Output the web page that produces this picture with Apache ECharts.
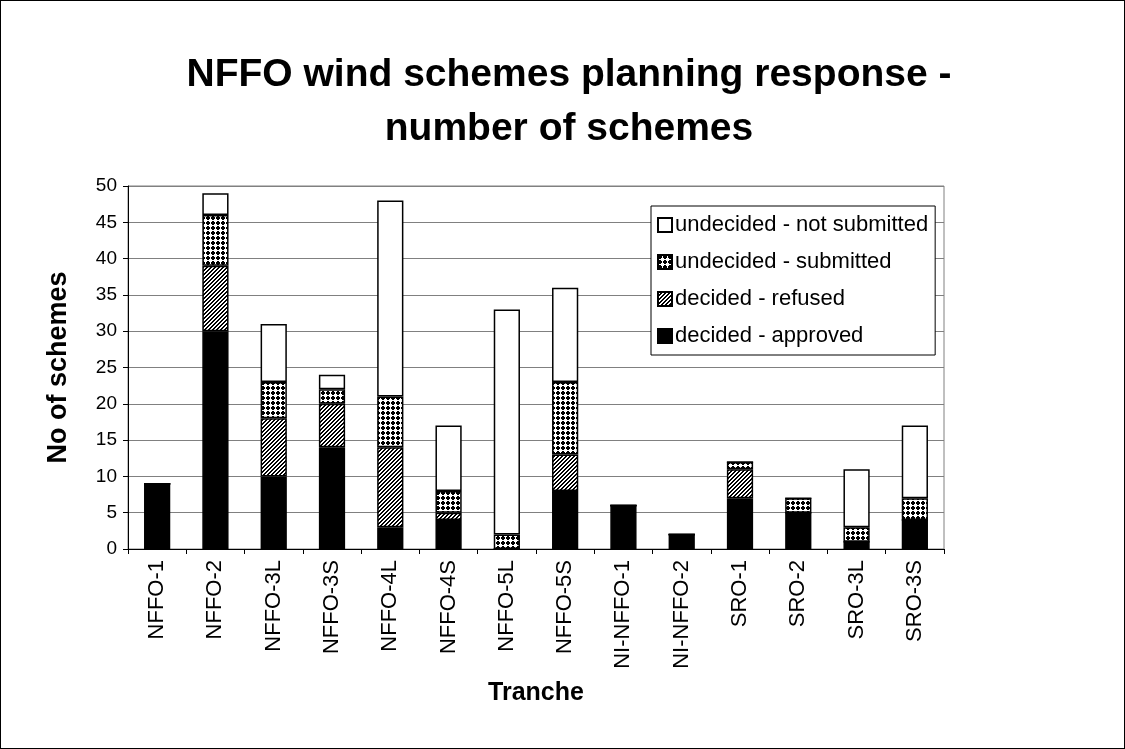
<!DOCTYPE html>
<html>
<head>
<meta charset="utf-8">
<script src="https://cdn.jsdelivr.net/npm/echarts@6/dist/echarts.min.js"></script>
<style>
  html, body { margin: 0; padding: 0; background: #fff; }
  #chart { width: 1123px; height: 747px; border: 1px solid #000; }
</style>
</head>
<body>
<div id="chart"></div>
<script>
const categories = ['NFFO-1', 'NFFO-2', 'NFFO-3L', 'NFFO-3S', 'NFFO-4L', 'NFFO-4S', 'NFFO-5L',
  'NFFO-5S', 'NI-NFFO-1', 'NI-NFFO-2', 'SRO-1', 'SRO-2', 'SRO-3L', 'SRO-3S'];
const approved     = [9, 30, 10, 14, 3, 4, 0, 8, 6, 2, 7, 5, 1, 4];
const refused      = [0, 9, 8, 6, 11, 1, 0, 5, 0, 0, 4, 0, 0, 0];
const submitted    = [0, 7, 5, 2, 7, 3, 2, 10, 0, 0, 1, 2, 2, 3];
const notSubmitted = [0, 3, 8, 2, 27, 9, 31, 13, 0, 0, 0, 0, 8, 10];
const yTicks = [0, 5, 10, 15, 20, 25, 30, 35, 40, 45, 50];

// fill patterns drawn on tiny canvases
const makeTile = (size, draw) => {
  const c = document.createElement('canvas');
  c.width = size; c.height = size;
  const ctx = c.getContext('2d');
  ctx.fillStyle = '#fff';
  ctx.fillRect(0, 0, size, size);
  ctx.fillStyle = '#000';
  draw(ctx);
  return { image: c, repeat: 'repeat' };
};

// diagonal hatch ////
const hatch = makeTile(4, ctx => {
  for (let i = 0; i < 4; i++) ctx.fillRect((3 - i + 4) % 4, i, 1, 1);
  for (let i = 0; i < 4; i++) ctx.fillRect((4 - i + 4) % 4, i, 1, 1);
});

// rounded black dots separated by thin white lines
const dots = makeTile(5, ctx => {
  ctx.fillRect(1, 0, 2, 1);
  ctx.fillRect(0, 1, 4, 2);
  ctx.fillRect(1, 3, 2, 1);
});

const chart = echarts.init(document.getElementById('chart'));
const FONT = 'Liberation Sans, Arial, sans-serif';

const barStyle = (color) => ({ color: color, borderColor: '#000', borderWidth: 1.5 });

const option = {
  backgroundColor: '#fff',
  animation: false,
  textStyle: { fontFamily: FONT, color: '#000' },
  title: {
    text: 'NFFO wind schemes planning response -\nnumber of schemes',
    left: 563,
    top: 42,
    textAlign: 'center',
    textStyle: { fontFamily: FONT, fontSize: 39, fontWeight: 'bold', color: '#000', lineHeight: 54 }
  },
  legend: {
    orient: 'vertical',
    left: 650,
    top: 205,
    width: 285,
    padding: [8, 7, 8, 6],
    itemGap: 15,
    itemWidth: 14,
    itemHeight: 14,
    backgroundColor: '#fff',
    borderColor: '#000',
    borderWidth: 1,
    data: ['undecided - not submitted', 'undecided - submitted', 'decided - refused', 'decided - approved'],
    icon: 'rect',
    textStyle: { fontFamily: FONT, fontSize: 22, color: '#000', padding: [0, 0, 0, -2], lineHeight: 22 }
  },
  grid: { left: 127, right: 180, top: 185, bottom: 199, show: true, borderColor: '#808080', borderWidth: 1 },
  xAxis: {
    type: 'category',
    data: categories,
    name: 'Tranche',
    nameLocation: 'middle',
    nameGap: 132,
    nameTextStyle: { fontFamily: FONT, fontSize: 25, fontWeight: 'bold', color: '#000' },
    axisLine: { lineStyle: { color: '#000', width: 1 } },
    axisTick: { show: true, length: 5, lineStyle: { color: '#000' } },
    axisLabel: { rotate: 90, fontFamily: FONT, fontSize: 22, color: '#000', margin: 11 }
  },
  yAxis: {
    type: 'value',
    min: 0,
    max: 50,
    interval: 5,
    name: 'No of schemes',
    nameLocation: 'middle',
    nameGap: 56,
    nameRotate: 90,
    nameTextStyle: { fontFamily: FONT, fontSize: 27, fontWeight: 'bold', color: '#000' },
    axisLine: { show: true, lineStyle: { color: '#000', width: 1 } },
    axisTick: { show: true, length: 5, lineStyle: { color: '#000' } },
    axisLabel: {
      fontFamily: FONT, fontSize: 19, color: '#000', margin: 11,
      formatter: v => (yTicks.includes(v) ? String(v) : '')
    },
    splitLine: { lineStyle: { color: '#808080', width: 1 } }
  },
  series: [
    { name: 'decided - approved', type: 'bar', stack: 's', barWidth: '45%', data: approved, itemStyle: barStyle('#000') },
    { name: 'decided - refused', type: 'bar', stack: 's', data: refused, itemStyle: barStyle(hatch) },
    { name: 'undecided - submitted', type: 'bar', stack: 's', data: submitted, itemStyle: barStyle(dots) },
    { name: 'undecided - not submitted', type: 'bar', stack: 's', data: notSubmitted, itemStyle: barStyle('#fff') }
  ]
};

chart.setOption(option);
window.addEventListener('resize', () => chart.resize());
</script>
</body>
</html>
